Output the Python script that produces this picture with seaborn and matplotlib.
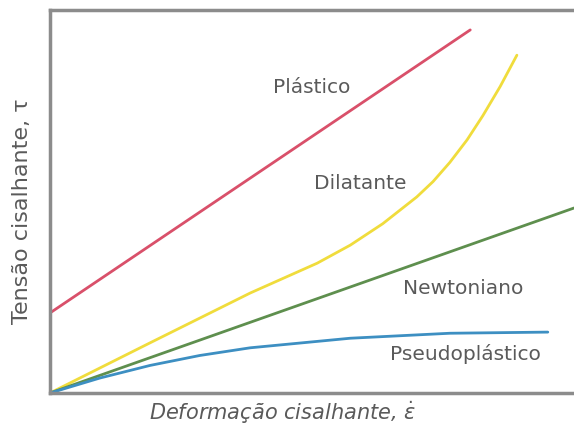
import matplotlib
matplotlib.use("Agg")
import matplotlib.pyplot as plt
import seaborn as sns
import pandas as pd

# Data (arbitrary units 0-100)
plastico_x = [0.0, 80.2]
plastico_y = [20.9, 94.8]

dilatante_x = [0.0, 19.1, 38.2, 51.0, 57.3, 63.5, 70.0, 73.1, 76.3, 79.6, 82.6, 85.9, 89.1]
dilatante_y = [0.0, 13.1, 26.1, 33.9, 38.6, 44.2, 51.2, 55.2, 60.2, 66.1, 72.4, 80.0, 88.2]

newtoniano_x = [0.0, 100.0]
newtoniano_y = [0.0, 48.3]

pseudo_x = [0.0, 9.5, 19.1, 28.6, 38.2, 57.3, 76.3, 95.0]
pseudo_y = [0.0, 3.9, 7.2, 9.8, 11.8, 14.3, 15.6, 15.9]

series_names = ["Plástico", "Dilatante", "Newtoniano", "Pseudoplástico"]
colors = ["#d9506a", "#f0dc3c", "#5e8f4e", "#3d8fc2"]

frames = []
for name, xs, ys in zip(series_names,
                        [plastico_x, dilatante_x, newtoniano_x, pseudo_x],
                        [plastico_y, dilatante_y, newtoniano_y, pseudo_y]):
    frames.append(pd.DataFrame({"x": xs, "y": ys, "tipo": name}))
df = pd.concat(frames, ignore_index=True)

sns.set_style("white")
plt.rcParams["font.family"] = ["DejaVu Sans"]

fig = plt.figure(figsize=(5.74, 4.32), dpi=100)
ax = fig.add_axes([50/574, 39/432, 1 - 50/574, 383/432])

sns.lineplot(data=df, x="x", y="y", hue="tipo", palette=dict(zip(series_names, colors)),
             sort=False, estimator=None, linewidth=2.0, legend=False, ax=ax)

ax.set_xlim(0, 100)
ax.set_ylim(0, 100)
ax.set_xticks([])
ax.set_yticks([])
ax.set_xlabel("")
ax.set_ylabel("")
for s in ["left", "bottom", "top"]:
    ax.spines[s].set_color("#8c8c8c")
    ax.spines[s].set_linewidth(2.5)
ax.spines["right"].set_visible(False)

txt_color = "#5a5a5a"
label_pos = {"Plástico": (50.0, 79.7), "Dilatante": (59.2, 54.6),
             "Newtoniano": (78.8, 27.2), "Pseudoplástico": (79.2, 10.2)}
for name, (tx, ty) in label_pos.items():
    ax.text(tx, ty, name, ha="center", va="center", fontsize=14.5, color=txt_color)

fig.text(283/574, 1 - 413/432, "Deformação cisalhante, $\\dot{\\varepsilon}$",
         ha="center", va="center", fontsize=15, style="italic", color=txt_color)
fig.text(22/574, 1 - 211/432, "Tensão cisalhante, τ", rotation=90,
         ha="center", va="center", fontsize=16, color=txt_color)

fig.savefig("out.png", dpi=100)
